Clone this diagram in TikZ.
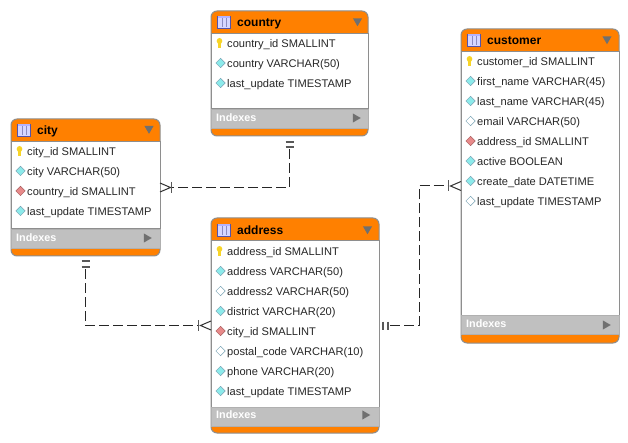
\documentclass[tikz,border=0pt]{standalone}
\usepackage{fontspec}
\setmainfont{Liberation Sans}
\usetikzlibrary{shapes.geometric}
\definecolor{headorange}{HTML}{FF8000}
\definecolor{edgegray}{HTML}{8E8E8E}
\definecolor{barfill}{HTML}{C0C0C0}
\definecolor{tipgray}{HTML}{707070}
\definecolor{colcyan}{HTML}{8CEAEA}
\definecolor{colred}{HTML}{E88A8A}
\definecolor{keyyellow}{HTML}{F7D428}
\tikzset{
  entity/.style={draw=edgegray, fill=headorange, rounded corners=6pt, line width=1pt, anchor=north west, inner sep=0pt, outer sep=0pt},
  entitybody/.style={draw=edgegray, fill=white, line width=1pt, anchor=north west, inner sep=0pt, outer sep=0pt},
  indexbar/.style={draw=edgegray!70, fill=barfill, line width=.6pt, anchor=north west, inner sep=0pt, outer sep=0pt},
  title/.style={font=\bfseries\fontsize{12}{14}\selectfont, text=black, anchor=west, inner sep=0pt, text height=12pt, text depth=3pt},
  rowtext/.style={font=\fontsize{11.1}{12}\selectfont, text=black!85, anchor=west, inner sep=0pt, text height=11pt, text depth=2pt},
  idxtext/.style={font=\bfseries\fontsize{10.8}{12}\selectfont, text=white, anchor=west, inner sep=0pt},
  colkey/.style={diamond, draw=cyan!35!gray, fill=colcyan, line width=.5pt, minimum width=9.5pt, minimum height=9.5pt, inner sep=0pt},
  colplain/.style={colkey, fill=white},
  colfk/.style={colkey, draw=red!30!gray, fill=colred},
  arrowdown/.style={regular polygon, regular polygon sides=3, shape border rotate=180, fill=tipgray, minimum size=10.5pt, inner sep=0pt},
  arrowright/.style={arrowdown, shape border rotate=270},
  rel/.style={draw=black!85, line width=1pt, dash pattern=on 10pt off 4pt},
  relmark/.style={draw=black!80, line width=1pt},
  relbar/.style={draw=black!65, line width=1.2pt},
  tableicon/.pic={
    \draw[draw=blue!35!gray, fill=blue!16, line width=.9pt] (-6.5,-6) rectangle (6.5,6);
    \draw[draw=blue!30!gray!70, line width=.6pt] (-2.2,-3.5) -- (-2.2,5.5) (2.2,-3.5) -- (2.2,5.5);
    \fill[blue!30] (-6,-5.5) rectangle (6,-3.5);
  },
  pkicon/.pic={
    \fill[keyyellow] (-1.2,0) rectangle (1.2,5);
    \fill[keyyellow] (0,-2) ellipse (2.8pt and 3pt);
  }
}
\begin{document}
\begin{tikzpicture}[x=1pt,y=-1pt]
\useasboundingbox (0,0) rectangle (628,443);
% country
\draw (211,11) node (country) [entity, minimum width=157pt, minimum height=125pt] {};
\draw (211,34) node (countrybody) [entitybody, minimum width=157pt, minimum height=75pt] {};
\draw (211,109) node (countrybar) [indexbar, minimum width=157pt, minimum height=19pt] {};
\draw (224,22) pic {tableicon};
\draw (237,22) node (countrytitle) [title] {country};
\draw (357.5,21) node (countrytip) [arrowdown] {};
\draw (219.5,43) pic {pkicon};
\draw (227,43) node (countryid) [rowtext] {country\_id SMALLINT};
\draw (220.5,63) node (countrydot1) [colkey] {};
\draw (227,63) node (countryname) [rowtext] {country VARCHAR(50)};
\draw (220.5,83) node (countrydot2) [colkey] {};
\draw (227,83) node (countryupd) [rowtext] {last\_update TIMESTAMP};
\draw (216,118) node (countryidx) [idxtext] {Indexes};
\draw (355.5,118) node (countryplay) [arrowright] {};
% city
\draw (11,119) node (city) [entity, minimum width=149pt, minimum height=137pt] {};
\draw (11,142) node (citybody) [entitybody, minimum width=149pt, minimum height=87pt] {};
\draw (11,229) node (citybar) [indexbar, minimum width=149pt, minimum height=19pt] {};
\draw (24,130) pic {tableicon};
\draw (37,130) node (citytitle) [title] {city};
\draw (149,128.6) node (citytip) [arrowdown] {};
\draw (19.5,151) pic {pkicon};
\draw (27,151) node (cityid) [rowtext] {city\_id SMALLINT};
\draw (20.5,171) node (citydot1) [colkey] {};
\draw (27,171) node (cityname) [rowtext] {city VARCHAR(50)};
\draw (20.5,191) node (citydot2) [colfk] {};
\draw (27,191) node (citycountry) [rowtext] {country\_id SMALLINT};
\draw (20.5,211) node (citydot3) [colkey] {};
\draw (27,211) node (cityupd) [rowtext] {last\_update TIMESTAMP};
\draw (16,238) node (cityidx) [idxtext] {Indexes};
\draw (146.5,238) node (cityplay) [arrowright] {};
% address
\draw (211,218) node (address) [entity, minimum width=168pt, minimum height=215pt] {};
\draw (211,241) node (addressbody) [entitybody, minimum width=168pt, minimum height=166pt] {};
\draw (211,407) node (addressbar) [indexbar, minimum width=168pt, minimum height=19pt] {};
\draw (224,230) pic {tableicon};
\draw (237,230) node (addresstitle) [title] {address};
\draw (367.5,229) node (addresstip) [arrowdown] {};
\draw (219.5,251) pic {pkicon};
\draw (227,251) node (addressid) [rowtext] {address\_id SMALLINT};
\draw (220.5,271) node (addressdot1) [colkey] {};
\draw (227,271) node (addressone) [rowtext] {address VARCHAR(50)};
\draw (220.5,291) node (addressdot2) [colplain] {};
\draw (227,291) node (addresstwo) [rowtext] {address2 VARCHAR(50)};
\draw (220.5,311) node (addressdot3) [colkey] {};
\draw (227,311) node (addressdist) [rowtext] {district VARCHAR(20)};
\draw (220.5,331) node (addressdot4) [colfk] {};
\draw (227,331) node (addresscity) [rowtext] {city\_id SMALLINT};
\draw (220.5,351) node (addressdot5) [colplain] {};
\draw (227,351) node (addresspost) [rowtext] {postal\_code VARCHAR(10)};
\draw (220.5,371) node (addressdot6) [colkey] {};
\draw (227,371) node (addressphone) [rowtext] {phone VARCHAR(20)};
\draw (220.5,391) node (addressdot7) [colkey] {};
\draw (227,391) node (addressupd) [rowtext] {last\_update TIMESTAMP};
\draw (216,415) node (addressidx) [idxtext] {Indexes};
\draw (365,415) node (addressplay) [arrowright] {};
% customer
\draw (461,29) node (customer) [entity, minimum width=158pt, minimum height=314pt] {};
\draw (461,52) node (customerbody) [entitybody, minimum width=158pt, minimum height=263pt] {};
\draw (461,315) node (customerbar) [indexbar, minimum width=158pt, minimum height=19pt] {};
\draw (474,40) pic {tableicon};
\draw (487,40) node (customertitle) [title] {customer};
\draw (607,39) node (customertip) [arrowdown] {};
\draw (469.5,61) pic {pkicon};
\draw (477,61) node (customerid) [rowtext] {customer\_id SMALLINT};
\draw (470.5,81) node (customerdot1) [colkey] {};
\draw (477,81) node (customerfirst) [rowtext] {first\_name VARCHAR(45)};
\draw (470.5,101) node (customerdot2) [colkey] {};
\draw (477,101) node (customerlast) [rowtext] {last\_name VARCHAR(45)};
\draw (470.5,121) node (customerdot3) [colplain] {};
\draw (477,121) node (customermail) [rowtext] {email VARCHAR(50)};
\draw (470.5,141) node (customerdot4) [colfk] {};
\draw (477,141) node (customeraddr) [rowtext] {address\_id SMALLINT};
\draw (470.5,161) node (customerdot5) [colkey] {};
\draw (477,161) node (customeractive) [rowtext] {active BOOLEAN};
\draw (470.5,181) node (customerdot6) [colkey] {};
\draw (477,181) node (customerdate) [rowtext] {create\_date DATETIME};
\draw (470.5,201) node (customerdot7) [colplain] {};
\draw (477,201) node (customerupd) [rowtext] {last\_update TIMESTAMP};
\draw (466,324) node (customeridx) [idxtext] {Indexes};
\draw (605.5,325) node (customerplay) [arrowright] {};
% relations
\coordinate (bend) at (419,325.5);
\draw [rel, shorten <=13pt, shorten >=12pt] (country.south) |- (city.east);
\draw [rel, shorten <=13pt, shorten >=13pt] (city.south) |- (address.west);
\draw [rel, shorten <=11pt] (address.east) -- (bend);
\draw [rel, shorten >=13pt] (bend) |- (customer.west);
% one side
\draw [relbar] (country.south) ++(-4,6) -- ++(8,0) ++(-8,5) -- ++(8,0);
\draw [relbar] (city.south) ++(-4,5) -- ++(8,0) ++(-8,6) -- ++(8,0);
\draw [relbar] (address.east) ++(4,-4) -- ++(0,8) ++(5,-8) -- ++(0,8);
% many side
\draw [relmark] (city.east) ++(0,-4.5) -- ++(10.5,4.5) -- ++(-10.5,4.5);
\draw [relbar] (city.east) ++(11.5,-5.5) -- ++(0,11);
\draw [relmark] (address.west) ++(0,-4.5) -- ++(-10.5,4.5) -- ++(10.5,4.5);
\draw [relbar] (address.west) ++(-12.5,-5.5) -- ++(0,11);
\draw [relmark] (customer.west) ++(0,-4.5) -- ++(-10.5,4.5) -- ++(10.5,4.5);
\draw [relbar] (customer.west) ++(-12.5,-5.5) -- ++(0,11);
\end{tikzpicture}
\end{document}
